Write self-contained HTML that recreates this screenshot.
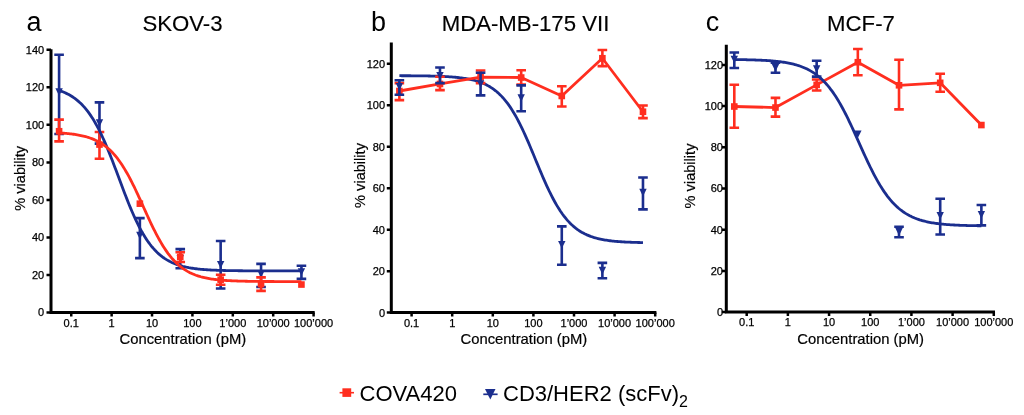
<!DOCTYPE html>
<html><head><meta charset="utf-8"><style>
html,body{margin:0;padding:0;background:#fff;}
svg{display:block;will-change:transform;}
text{font-family:"Liberation Sans", sans-serif;}
</style></head><body>
<svg width="1024" height="415" viewBox="0 0 1024 415" font-family='"Liberation Sans", sans-serif'>
<rect width="1024" height="415" fill="#fff"/>
<path d="M51.00 49.30V314.00M49.50 312.50H314.70" stroke="#000" stroke-width="3" fill="none"/>
<path d="M46.50 312.50H51.00M46.50 274.97H51.00M46.50 237.44H51.00M46.50 199.92H51.00M46.50 162.39H51.00M46.50 124.86H51.00M46.50 87.33H51.00M46.50 49.80H51.00" stroke="#000" stroke-width="2.5" fill="none"/>
<path d="M71.25 312.50V316.50M111.64 312.50V316.50M152.03 312.50V316.50M192.42 312.50V316.50M232.81 312.50V316.50M273.20 312.50V316.50M313.59 312.50V316.50" stroke="#000" stroke-width="2.5" fill="none"/>
<g font-size="11" text-anchor="end" fill="#000" stroke="#000" stroke-width="0.25">
<text x="44.20" y="316.40">0</text>
<text x="44.20" y="278.87">20</text>
<text x="44.20" y="241.34">40</text>
<text x="44.20" y="203.82">60</text>
<text x="44.20" y="166.29">80</text>
<text x="44.20" y="128.76">100</text>
<text x="44.20" y="91.23">120</text>
<text x="44.20" y="53.70">140</text>
</g>
<g font-size="11" text-anchor="middle" fill="#000" stroke="#000" stroke-width="0.25">
<text x="71.25" y="327.3">0.1</text>
<text x="111.64" y="327.3">1</text>
<text x="152.03" y="327.3">10</text>
<text x="192.42" y="327.3">100</text>
<text x="232.81" y="327.3">1’000</text>
<text x="273.20" y="327.3">10’000</text>
<text x="313.59" y="327.3">100’000</text>
</g>
<text x="182.85" y="343.8" font-size="14.8" text-anchor="middle" stroke="#000" stroke-width="0.2">Concentration (pM)</text>
<text transform="translate(24.60 178.30) rotate(-90)" font-size="14.6" text-anchor="middle" stroke="#000" stroke-width="0.2">% viability</text>
<text x="34" y="31" font-size="27" text-anchor="middle">a</text>
<text x="182.5" y="30.7" font-size="22.2" text-anchor="middle" stroke="#000" stroke-width="0.15">SKOV-3</text>
<path d="M59.09 54.68V134.05M54.29 54.68H63.89M54.29 134.05H63.89M99.48 102.34V143.62M94.68 102.34H104.28M94.68 143.62H104.28M139.87 218.12V258.08M135.07 218.12H144.67M135.07 258.08H144.67M180.26 249.08V268.22M175.46 249.08H185.06M175.46 268.22H185.06M220.65 241.01V288.48M215.85 241.01H225.45M215.85 288.48H225.45M261.04 263.90V286.98M256.24 263.90H265.84M256.24 286.98H265.84M301.43 265.78V278.91M296.63 265.78H306.23M296.63 278.91H306.23" stroke="#1b2e8e" stroke-width="2.6" fill="none"/>
<path d="M55.39 88.32H62.79L59.09 95.92Z" fill="#1b2e8e"/>
<path d="M95.78 119.28H103.18L99.48 126.88Z" fill="#1b2e8e"/>
<path d="M136.17 231.87H143.57L139.87 239.47Z" fill="#1b2e8e"/>
<path d="M176.56 254.95H183.96L180.26 262.55Z" fill="#1b2e8e"/>
<path d="M216.95 260.95H224.35L220.65 268.55Z" fill="#1b2e8e"/>
<path d="M257.34 270.33H264.74L261.04 277.93Z" fill="#1b2e8e"/>
<path d="M297.73 268.27H305.13L301.43 275.87Z" fill="#1b2e8e"/>
<path d="M59.09 119.61V141.37M54.29 119.61H63.89M54.29 141.37H63.89M99.48 131.99V158.82M94.68 131.99H104.28M94.68 158.82H104.28M180.26 252.27V262.02M175.46 252.27H185.06M175.46 262.02H185.06M220.65 274.78V284.73M215.85 274.78H225.45M215.85 284.73H225.45M261.04 277.41V290.92M256.24 277.41H265.84M256.24 290.92H265.84" stroke="#ff2e1f" stroke-width="2.6" fill="none"/>
<rect x="55.79" y="127.94" width="6.6" height="6.6" fill="#ff2e1f"/>
<rect x="96.18" y="141.26" width="6.6" height="6.6" fill="#ff2e1f"/>
<rect x="136.57" y="200.37" width="6.6" height="6.6" fill="#ff2e1f"/>
<rect x="176.96" y="253.66" width="6.6" height="6.6" fill="#ff2e1f"/>
<rect x="217.35" y="276.36" width="6.6" height="6.6" fill="#ff2e1f"/>
<rect x="257.74" y="280.87" width="6.6" height="6.6" fill="#ff2e1f"/>
<rect x="298.13" y="281.24" width="6.6" height="6.6" fill="#ff2e1f"/>
<path d="M59.09 90.48L60.30 90.88L61.51 91.32L62.73 91.78L63.94 92.27L65.15 92.80L66.36 93.36L67.57 93.95L68.78 94.59L70.00 95.27L71.21 95.98L72.42 96.75L73.63 97.56L74.84 98.42L76.06 99.34L77.27 100.31L78.48 101.34L79.69 102.42L80.90 103.58L82.11 104.79L83.33 106.08L84.54 107.44L85.75 108.87L86.96 110.37L88.17 111.95L89.38 113.62L90.60 115.36L91.81 117.19L93.02 119.10L94.23 121.10L95.44 123.18L96.65 125.36L97.87 127.61L99.08 129.96L100.29 132.39L101.50 134.90L102.71 137.50L103.92 140.17L105.14 142.92L106.35 145.75L107.56 148.64L108.77 151.60L109.98 154.61L111.19 157.68L112.41 160.79L113.62 163.95L114.83 167.13L116.04 170.34L117.25 173.57L118.46 176.81L119.68 180.06L120.89 183.29L122.10 186.52L123.31 189.72L124.52 192.89L125.73 196.03L126.95 199.13L128.16 202.17L129.37 205.17L130.58 208.10L131.79 210.96L133.01 213.76L134.22 216.48L135.43 219.12L136.64 221.69L137.85 224.17L139.06 226.56L140.28 228.87L141.49 231.10L142.70 233.24L143.91 235.29L145.12 237.25L146.33 239.13L147.55 240.92L148.76 242.63L149.97 244.27L151.18 245.82L152.39 247.29L153.60 248.69L154.82 250.02L156.03 251.28L157.24 252.47L158.45 253.59L159.66 254.66L160.87 255.66L162.09 256.61L163.30 257.51L164.51 258.35L165.72 259.14L166.93 259.89L168.14 260.59L169.36 261.25L170.57 261.87L171.78 262.45L172.99 262.99L174.20 263.51L175.41 263.99L176.63 264.44L177.84 264.86L179.05 265.26L180.26 265.63L181.47 265.97L182.68 266.30L183.90 266.60L185.11 266.89L186.32 267.16L187.53 267.40L188.74 267.64L189.95 267.85L191.17 268.06L192.38 268.25L193.59 268.43L194.80 268.59L196.01 268.75L197.23 268.89L198.44 269.03L199.65 269.16L200.86 269.27L202.07 269.38L203.28 269.49L204.50 269.58L205.71 269.67L206.92 269.76L208.13 269.84L209.34 269.91L210.55 269.98L211.77 270.04L212.98 270.10L214.19 270.16L215.40 270.21L216.61 270.26L217.82 270.30L219.04 270.34L220.25 270.38L221.46 270.42L222.67 270.45L223.88 270.49L225.09 270.52L226.31 270.54L227.52 270.57L228.73 270.59L229.94 270.62L231.15 270.64L232.36 270.66L233.58 270.68L234.79 270.69L236.00 270.71L237.21 270.72L238.42 270.74L239.63 270.75L240.85 270.76L242.06 270.77L243.27 270.78L244.48 270.79L245.69 270.80L246.90 270.81L248.12 270.82L249.33 270.83L250.54 270.83L251.75 270.84L252.96 270.85L254.18 270.85L255.39 270.86L256.60 270.86L257.81 270.87L259.02 270.87L260.23 270.88L261.45 270.88L262.66 270.88L263.87 270.89L265.08 270.89L266.29 270.89L267.50 270.89L268.72 270.90L269.93 270.90L271.14 270.90L272.35 270.90L273.56 270.90L274.77 270.91L275.99 270.91L277.20 270.91L278.41 270.91L279.62 270.91L280.83 270.91L282.04 270.91L283.26 270.92L284.47 270.92L285.68 270.92L286.89 270.92L288.10 270.92L289.31 270.92L290.53 270.92L291.74 270.92L292.95 270.92L294.16 270.92L295.37 270.92L296.58 270.92L297.80 270.92L299.01 270.92L300.22 270.92L301.43 270.93" stroke="#1b2e8e" stroke-width="2.8" fill="none"/>
<path d="M59.09 132.89L60.30 132.97L61.51 133.05L62.73 133.14L63.94 133.23L65.15 133.33L66.36 133.43L67.57 133.55L68.78 133.67L70.00 133.80L71.21 133.94L72.42 134.10L73.63 134.26L74.84 134.43L76.06 134.62L77.27 134.82L78.48 135.03L79.69 135.26L80.90 135.51L82.11 135.77L83.33 136.05L84.54 136.35L85.75 136.67L86.96 137.02L88.17 137.39L89.38 137.78L90.60 138.20L91.81 138.65L93.02 139.13L94.23 139.64L95.44 140.18L96.65 140.76L97.87 141.38L99.08 142.04L100.29 142.74L101.50 143.49L102.71 144.28L103.92 145.12L105.14 146.01L106.35 146.95L107.56 147.96L108.77 149.01L109.98 150.13L111.19 151.31L112.41 152.56L113.62 153.87L114.83 155.25L116.04 156.70L117.25 158.22L118.46 159.81L119.68 161.48L120.89 163.22L122.10 165.03L123.31 166.92L124.52 168.88L125.73 170.91L126.95 173.02L128.16 175.19L129.37 177.43L130.58 179.73L131.79 182.10L133.01 184.52L134.22 186.99L135.43 189.51L136.64 192.07L137.85 194.67L139.06 197.30L140.28 199.95L141.49 202.62L142.70 205.30L143.91 207.98L145.12 210.66L146.33 213.33L147.55 215.99L148.76 218.62L149.97 221.22L151.18 223.78L152.39 226.30L153.60 228.78L154.82 231.20L156.03 233.57L157.24 235.88L158.45 238.12L159.66 240.30L160.87 242.41L162.09 244.45L163.30 246.42L164.51 248.31L165.72 250.13L166.93 251.87L168.14 253.54L169.36 255.14L170.57 256.67L171.78 258.12L172.99 259.50L174.20 260.82L175.41 262.07L176.63 263.25L177.84 264.38L179.05 265.44L180.26 266.44L181.47 267.39L182.68 268.29L183.90 269.13L185.11 269.93L186.32 270.67L187.53 271.38L188.74 272.04L189.95 272.66L191.17 273.24L192.38 273.79L193.59 274.30L194.80 274.79L196.01 275.24L197.23 275.66L198.44 276.05L199.65 276.42L200.86 276.77L202.07 277.09L203.28 277.39L204.50 277.68L205.71 277.94L206.92 278.19L208.13 278.42L209.34 278.63L210.55 278.83L211.77 279.02L212.98 279.20L214.19 279.36L215.40 279.51L216.61 279.65L217.82 279.79L219.04 279.91L220.25 280.02L221.46 280.13L222.67 280.23L223.88 280.32L225.09 280.41L226.31 280.49L227.52 280.57L228.73 280.64L229.94 280.70L231.15 280.76L232.36 280.82L233.58 280.87L234.79 280.92L236.00 280.97L237.21 281.01L238.42 281.05L239.63 281.09L240.85 281.12L242.06 281.15L243.27 281.18L244.48 281.21L245.69 281.24L246.90 281.26L248.12 281.28L249.33 281.31L250.54 281.33L251.75 281.34L252.96 281.36L254.18 281.38L255.39 281.39L256.60 281.40L257.81 281.42L259.02 281.43L260.23 281.44L261.45 281.45L262.66 281.46L263.87 281.47L265.08 281.48L266.29 281.48L267.50 281.49L268.72 281.50L269.93 281.50L271.14 281.51L272.35 281.52L273.56 281.52L274.77 281.53L275.99 281.53L277.20 281.53L278.41 281.54L279.62 281.54L280.83 281.54L282.04 281.55L283.26 281.55L284.47 281.55L285.68 281.56L286.89 281.56L288.10 281.56L289.31 281.56L290.53 281.56L291.74 281.57L292.95 281.57L294.16 281.57L295.37 281.57L296.58 281.57L297.80 281.57L299.01 281.57L300.22 281.57L301.43 281.58" stroke="#ff2e1f" stroke-width="2.8" fill="none"/>
<path d="M391.30 42.61V314.10M389.80 312.60H656.40" stroke="#000" stroke-width="3" fill="none"/>
<path d="M386.80 312.60H391.30M386.80 271.14H391.30M386.80 229.68H391.30M386.80 188.22H391.30M386.80 146.76H391.30M386.80 105.30H391.30M386.80 63.84H391.30" stroke="#000" stroke-width="2.5" fill="none"/>
<path d="M411.60 312.60V316.60M452.20 312.60V316.60M492.80 312.60V316.60M533.40 312.60V316.60M574.00 312.60V316.60M614.60 312.60V316.60M655.20 312.60V316.60" stroke="#000" stroke-width="2.5" fill="none"/>
<g font-size="11" text-anchor="end" fill="#000" stroke="#000" stroke-width="0.25">
<text x="385.00" y="316.50">0</text>
<text x="385.00" y="275.04">20</text>
<text x="385.00" y="233.58">40</text>
<text x="385.00" y="192.12">60</text>
<text x="385.00" y="150.66">80</text>
<text x="385.00" y="109.20">100</text>
<text x="385.00" y="67.74">120</text>
</g>
<g font-size="11" text-anchor="middle" fill="#000" stroke="#000" stroke-width="0.25">
<text x="411.60" y="327.3">0.1</text>
<text x="452.20" y="327.3">1</text>
<text x="492.80" y="327.3">10</text>
<text x="533.40" y="327.3">100</text>
<text x="574.00" y="327.3">1’000</text>
<text x="614.60" y="327.3">10’000</text>
<text x="655.20" y="327.3">100’000</text>
</g>
<text x="523.85" y="343.8" font-size="14.8" text-anchor="middle" stroke="#000" stroke-width="0.2">Concentration (pM)</text>
<text transform="translate(365.00 175.50) rotate(-90)" font-size="14.6" text-anchor="middle" stroke="#000" stroke-width="0.2">% viability</text>
<text x="378.5" y="31" font-size="27" text-anchor="middle">b</text>
<text x="525.5" y="30.7" font-size="22.2" text-anchor="middle" stroke="#000" stroke-width="0.15">MDA-MB-175 VII</text>
<path d="M399.38 75.72L400.60 75.72L401.81 75.73L403.03 75.73L404.25 75.74L405.47 75.74L406.69 75.75L407.90 75.76L409.12 75.76L410.34 75.77L411.56 75.78L412.78 75.79L413.99 75.80L415.21 75.81L416.43 75.82L417.65 75.84L418.87 75.85L420.08 75.86L421.30 75.88L422.52 75.89L423.74 75.91L424.96 75.93L426.17 75.95L427.39 75.97L428.61 76.00L429.83 76.02L431.05 76.05L432.26 76.08L433.48 76.11L434.70 76.14L435.92 76.18L437.14 76.21L438.35 76.25L439.57 76.30L440.79 76.34L442.01 76.40L443.23 76.45L444.44 76.51L445.66 76.57L446.88 76.64L448.10 76.71L449.32 76.78L450.53 76.87L451.75 76.95L452.97 77.05L454.19 77.15L455.41 77.26L456.62 77.37L457.84 77.50L459.06 77.63L460.28 77.77L461.50 77.93L462.71 78.09L463.93 78.27L465.15 78.45L466.37 78.65L467.59 78.87L468.80 79.10L470.02 79.35L471.24 79.61L472.46 79.89L473.68 80.19L474.89 80.52L476.11 80.86L477.33 81.23L478.55 81.62L479.77 82.04L480.98 82.49L482.20 82.97L483.42 83.48L484.64 84.02L485.86 84.60L487.07 85.22L488.29 85.87L489.51 86.57L490.73 87.32L491.95 88.11L493.16 88.94L494.38 89.83L495.60 90.78L496.82 91.78L498.04 92.84L499.25 93.95L500.47 95.14L501.69 96.39L502.91 97.70L504.13 99.09L505.34 100.55L506.56 102.08L507.78 103.69L509.00 105.38L510.22 107.14L511.43 108.99L512.65 110.91L513.87 112.92L515.09 115.00L516.31 117.16L517.52 119.41L518.74 121.73L519.96 124.12L521.18 126.58L522.40 129.12L523.61 131.72L524.83 134.38L526.05 137.10L527.27 139.87L528.49 142.68L529.70 145.54L530.92 148.43L532.14 151.34L533.36 154.27L534.58 157.22L535.79 160.17L537.01 163.12L538.23 166.06L539.45 168.99L540.67 171.89L541.88 174.75L543.10 177.59L544.32 180.37L545.54 183.11L546.76 185.80L547.97 188.42L549.19 190.98L550.41 193.48L551.63 195.90L552.85 198.25L554.06 200.52L555.28 202.72L556.50 204.84L557.72 206.87L558.94 208.83L560.15 210.71L561.37 212.50L562.59 214.22L563.81 215.86L565.03 217.42L566.24 218.91L567.46 220.33L568.68 221.67L569.90 222.95L571.12 224.16L572.33 225.30L573.55 226.38L574.77 227.41L575.99 228.37L577.21 229.28L578.42 230.14L579.64 230.95L580.86 231.71L582.08 232.43L583.30 233.10L584.51 233.74L585.73 234.33L586.95 234.89L588.17 235.41L589.39 235.90L590.60 236.36L591.82 236.79L593.04 237.20L594.26 237.58L595.48 237.93L596.69 238.26L597.91 238.57L599.13 238.86L600.35 239.13L601.57 239.38L602.78 239.62L604.00 239.84L605.22 240.05L606.44 240.24L607.66 240.42L608.87 240.59L610.09 240.75L611.31 240.89L612.53 241.03L613.75 241.16L614.96 241.28L616.18 241.39L617.40 241.49L618.62 241.59L619.84 241.68L621.05 241.76L622.27 241.84L623.49 241.92L624.71 241.99L625.93 242.05L627.14 242.11L628.36 242.16L629.58 242.22L630.80 242.26L632.02 242.31L633.23 242.35L634.45 242.39L635.67 242.43L636.89 242.46L638.11 242.49L639.32 242.52L640.54 242.55L641.76 242.57L642.98 242.60" stroke="#1b2e8e" stroke-width="2.8" fill="none"/>
<path d="M399.38 91.00L439.98 83.95L480.58 77.11L521.18 77.52L561.78 95.97L602.38 58.24L642.98 111.73" stroke="#ff2e1f" stroke-width="2.8" fill="none" stroke-linejoin="round"/>
<path d="M399.38 83.12V100.12M394.58 83.12H404.18M394.58 100.12H404.18M439.98 76.69V90.17M435.18 76.69H444.78M435.18 90.17H444.78M480.58 70.47V83.12M475.78 70.47H485.38M475.78 83.12H485.38M521.18 70.27V84.57M516.38 70.27H525.98M516.38 84.57H525.98M561.78 86.23V106.54M556.98 86.23H566.58M556.98 106.54H566.58M602.38 49.95V66.12M597.58 49.95H607.18M597.58 66.12H607.18M642.98 105.51V118.15M638.18 105.51H647.78M638.18 118.15H647.78" stroke="#ff2e1f" stroke-width="2.6" fill="none"/>
<rect x="396.08" y="87.70" width="6.6" height="6.6" fill="#ff2e1f"/>
<rect x="436.68" y="80.65" width="6.6" height="6.6" fill="#ff2e1f"/>
<rect x="477.28" y="73.81" width="6.6" height="6.6" fill="#ff2e1f"/>
<rect x="517.88" y="74.22" width="6.6" height="6.6" fill="#ff2e1f"/>
<rect x="558.48" y="92.67" width="6.6" height="6.6" fill="#ff2e1f"/>
<rect x="599.08" y="54.94" width="6.6" height="6.6" fill="#ff2e1f"/>
<rect x="639.68" y="108.43" width="6.6" height="6.6" fill="#ff2e1f"/>
<path d="M399.38 80.22V94.73M394.58 80.22H404.18M394.58 94.73H404.18M439.98 67.57V83.12M435.18 67.57H444.78M435.18 83.12H444.78M480.58 72.75V95.35M475.78 72.75H485.38M475.78 95.35H485.38M521.18 85.40V111.31M516.38 85.40H525.98M516.38 111.31H525.98M561.78 226.36V264.71M556.98 226.36H566.58M556.98 264.71H566.58M602.38 262.85V278.19M597.58 262.85H607.18M597.58 278.19H607.18M642.98 177.44V209.36M638.18 177.44H647.78M638.18 209.36H647.78" stroke="#1b2e8e" stroke-width="2.6" fill="none"/>
<path d="M395.68 82.94H403.08L399.38 90.54Z" fill="#1b2e8e"/>
<path d="M436.28 71.96H443.68L439.98 79.56Z" fill="#1b2e8e"/>
<path d="M476.88 80.25H484.28L480.58 87.85Z" fill="#1b2e8e"/>
<path d="M517.48 94.14H524.88L521.18 101.74Z" fill="#1b2e8e"/>
<path d="M558.08 240.91H565.48L561.78 248.51Z" fill="#1b2e8e"/>
<path d="M598.68 266.82H606.08L602.38 274.42Z" fill="#1b2e8e"/>
<path d="M639.28 188.87H646.68L642.98 196.47Z" fill="#1b2e8e"/>
<path d="M726.30 44.83V313.60M724.80 312.10H995.00" stroke="#000" stroke-width="3" fill="none"/>
<path d="M721.80 312.10H726.30M721.80 270.90H726.30M721.80 229.70H726.30M721.80 188.50H726.30M721.80 147.30H726.30M721.80 106.10H726.30M721.80 64.90H726.30" stroke="#000" stroke-width="2.5" fill="none"/>
<path d="M746.70 312.10V316.10M787.88 312.10V316.10M829.06 312.10V316.10M870.24 312.10V316.10M911.42 312.10V316.10M952.60 312.10V316.10M993.78 312.10V316.10" stroke="#000" stroke-width="2.5" fill="none"/>
<g font-size="11" text-anchor="end" fill="#000" stroke="#000" stroke-width="0.25">
<text x="723.00" y="316.00">0</text>
<text x="723.00" y="274.80">20</text>
<text x="723.00" y="233.60">40</text>
<text x="723.00" y="192.40">60</text>
<text x="723.00" y="151.20">80</text>
<text x="723.00" y="110.00">100</text>
<text x="723.00" y="68.80">120</text>
</g>
<g font-size="11" text-anchor="middle" fill="#000" stroke="#000" stroke-width="0.25">
<text x="746.70" y="326.2">0.1</text>
<text x="787.88" y="326.2">1</text>
<text x="829.06" y="326.2">10</text>
<text x="870.24" y="326.2">100</text>
<text x="911.42" y="326.2">1’000</text>
<text x="952.60" y="326.2">10’000</text>
<text x="993.78" y="326.2">100’000</text>
</g>
<text x="860.65" y="343.8" font-size="14.8" text-anchor="middle" stroke="#000" stroke-width="0.2">Concentration (pM)</text>
<text transform="translate(694.50 176.00) rotate(-90)" font-size="14.6" text-anchor="middle" stroke="#000" stroke-width="0.2">% viability</text>
<text x="712.5" y="31" font-size="27" text-anchor="middle">c</text>
<text x="861" y="30.7" font-size="22.2" text-anchor="middle" stroke="#000" stroke-width="0.15">MCF-7</text>
<path d="M734.30 106.51L775.48 107.54L816.66 84.88L857.84 62.22L899.02 85.29L940.20 82.82L981.38 125.05" stroke="#ff2e1f" stroke-width="2.8" fill="none" stroke-linejoin="round"/>
<path d="M734.30 84.68V127.73M729.50 84.68H739.10M729.50 127.73H739.10M775.48 97.86V116.61M770.68 97.86H780.28M770.68 116.61H780.28M816.66 79.53V90.44M811.86 79.53H821.46M811.86 90.44H821.46M857.84 49.04V75.20M853.04 49.04H862.64M853.04 75.20H862.64M899.02 59.75V109.40M894.22 59.75H903.82M894.22 109.40H903.82M940.20 73.76V91.68M935.40 73.76H945.00M935.40 91.68H945.00" stroke="#ff2e1f" stroke-width="2.6" fill="none"/>
<rect x="731.00" y="103.21" width="6.6" height="6.6" fill="#ff2e1f"/>
<rect x="772.18" y="104.24" width="6.6" height="6.6" fill="#ff2e1f"/>
<rect x="813.36" y="81.58" width="6.6" height="6.6" fill="#ff2e1f"/>
<rect x="854.54" y="58.92" width="6.6" height="6.6" fill="#ff2e1f"/>
<rect x="895.72" y="81.99" width="6.6" height="6.6" fill="#ff2e1f"/>
<rect x="936.90" y="79.52" width="6.6" height="6.6" fill="#ff2e1f"/>
<rect x="978.08" y="121.75" width="6.6" height="6.6" fill="#ff2e1f"/>
<path d="M734.30 59.56L735.54 59.57L736.77 59.59L738.01 59.60L739.25 59.62L740.48 59.64L741.72 59.66L742.95 59.68L744.19 59.70L745.42 59.72L746.66 59.75L747.89 59.78L749.13 59.81L750.36 59.84L751.60 59.87L752.83 59.91L754.07 59.95L755.31 59.99L756.54 60.03L757.78 60.08L759.01 60.13L760.25 60.18L761.48 60.24L762.72 60.30L763.95 60.36L765.19 60.43L766.42 60.50L767.66 60.58L768.89 60.67L770.13 60.76L771.37 60.85L772.60 60.95L773.84 61.06L775.07 61.18L776.31 61.30L777.54 61.44L778.78 61.58L780.01 61.73L781.25 61.89L782.48 62.06L783.72 62.24L784.95 62.43L786.19 62.64L787.43 62.86L788.66 63.10L789.90 63.35L791.13 63.62L792.37 63.90L793.60 64.20L794.84 64.52L796.07 64.87L797.31 65.23L798.54 65.62L799.78 66.03L801.02 66.47L802.25 66.94L803.49 67.43L804.72 67.96L805.96 68.51L807.19 69.10L808.43 69.73L809.66 70.39L810.90 71.10L812.13 71.84L813.37 72.63L814.60 73.46L815.84 74.34L817.08 75.27L818.31 76.25L819.55 77.28L820.78 78.37L822.02 79.52L823.25 80.72L824.49 81.99L825.72 83.31L826.96 84.70L828.19 86.16L829.43 87.69L830.66 89.28L831.90 90.94L833.14 92.67L834.37 94.47L835.61 96.34L836.84 98.29L838.08 100.30L839.31 102.38L840.55 104.53L841.78 106.74L843.02 109.02L844.25 111.36L845.49 113.76L846.72 116.21L847.96 118.72L849.20 121.28L850.43 123.88L851.67 126.51L852.90 129.19L854.14 131.89L855.37 134.61L856.61 137.36L857.84 140.11L859.08 142.87L860.31 145.63L861.55 148.38L862.79 151.12L864.02 153.84L865.26 156.54L866.49 159.21L867.73 161.84L868.96 164.44L870.20 166.99L871.43 169.49L872.67 171.94L873.90 174.33L875.14 176.66L876.37 178.93L877.61 181.14L878.85 183.28L880.08 185.35L881.32 187.35L882.55 189.28L883.79 191.14L885.02 192.94L886.26 194.66L887.49 196.31L888.73 197.89L889.96 199.41L891.20 200.86L892.43 202.24L893.67 203.56L894.91 204.82L896.14 206.01L897.38 207.15L898.61 208.23L899.85 209.26L901.08 210.23L902.32 211.15L903.55 212.03L904.79 212.85L906.02 213.63L907.26 214.37L908.49 215.07L909.73 215.73L910.97 216.35L912.20 216.94L913.44 217.49L914.67 218.01L915.91 218.50L917.14 218.96L918.38 219.40L919.61 219.81L920.85 220.19L922.08 220.55L923.32 220.89L924.56 221.21L925.79 221.51L927.03 221.80L928.26 222.06L929.50 222.31L930.73 222.54L931.97 222.76L933.20 222.97L934.44 223.16L935.67 223.34L936.91 223.51L938.14 223.67L939.38 223.82L940.62 223.96L941.85 224.09L943.09 224.21L944.32 224.33L945.56 224.44L946.79 224.54L948.03 224.63L949.26 224.72L950.50 224.80L951.73 224.88L952.97 224.95L954.20 225.02L955.44 225.09L956.68 225.15L957.91 225.20L959.15 225.26L960.38 225.30L961.62 225.35L962.85 225.39L964.09 225.43L965.32 225.47L966.56 225.51L967.79 225.54L969.03 225.57L970.26 225.60L971.50 225.63L972.74 225.65L973.97 225.68L975.21 225.70L976.44 225.72L977.68 225.74L978.91 225.76L980.15 225.78L981.38 225.79" stroke="#1b2e8e" stroke-width="2.8" fill="none"/>
<path d="M734.30 52.54V67.99M729.50 52.54H739.10M729.50 67.99H739.10M775.48 62.63V72.73M770.68 62.63H780.28M770.68 72.73H780.28M816.66 60.78V76.64M811.86 60.78H821.46M811.86 76.64H821.46M899.02 226.82V237.32M894.22 226.82H903.82M894.22 237.32H903.82M940.20 198.80V234.44M935.40 198.80H945.00M935.40 234.44H945.00M981.38 204.98V225.37M976.58 204.98H986.18M976.58 225.37H986.18" stroke="#1b2e8e" stroke-width="2.6" fill="none"/>
<path d="M730.60 55.64H738.00L734.30 63.24Z" fill="#1b2e8e"/>
<path d="M771.78 63.88H779.18L775.48 71.48Z" fill="#1b2e8e"/>
<path d="M812.96 65.32H820.36L816.66 72.92Z" fill="#1b2e8e"/>
<path d="M854.14 130.42H861.54L857.84 138.02Z" fill="#1b2e8e"/>
<path d="M895.32 228.06H902.72L899.02 235.66Z" fill="#1b2e8e"/>
<path d="M936.50 211.99H943.90L940.20 219.59Z" fill="#1b2e8e"/>
<path d="M977.68 210.96H985.08L981.38 218.56Z" fill="#1b2e8e"/>
<path d="M339.6 392.7H354.0" stroke="#ff2e1f" stroke-width="1.6"/>
<rect x="342.4" y="388.3" width="8.8" height="8.6" fill="#ff2e1f"/>
<text x="359.5" y="401.0" font-size="22">COVA420</text>
<path d="M483.3 394.3H497.6" stroke="#1b2e8e" stroke-width="1.7"/>
<path d="M485.0 389.0H495.5L490.3 399.6Z" fill="#1b2e8e"/>
<text x="503" y="400.9" font-size="22">CD3/HER2 (scFv)<tspan font-size="16" dy="5.6">2</tspan></text>
</svg>
</body></html>
